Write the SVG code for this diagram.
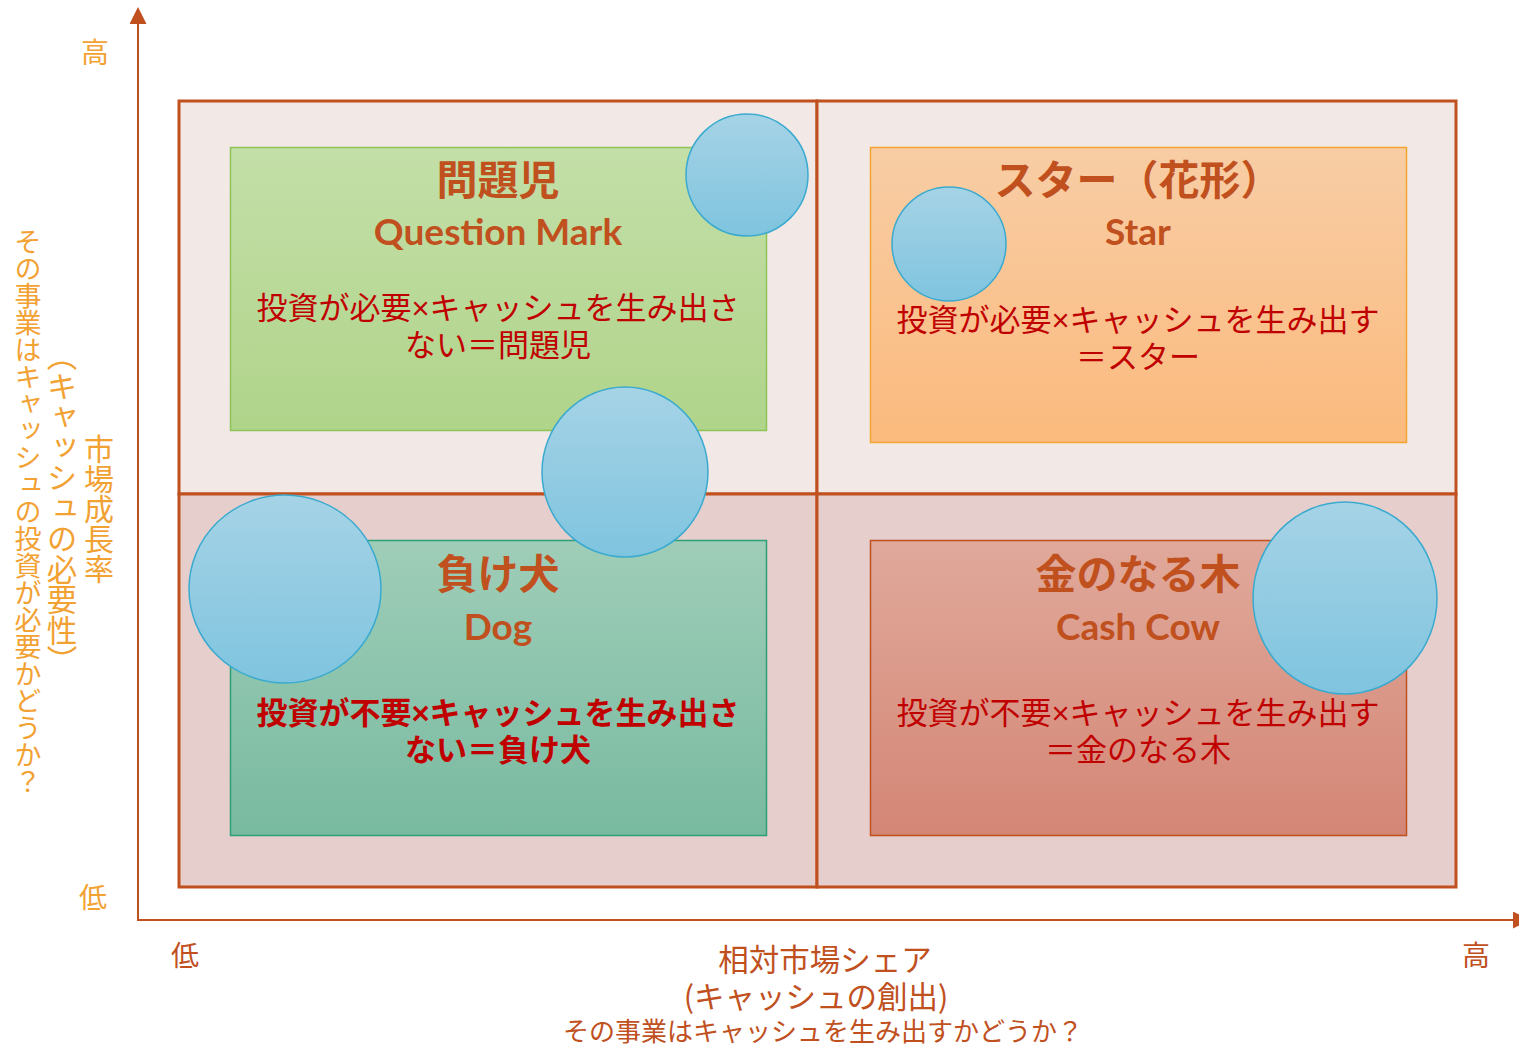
<svg xmlns="http://www.w3.org/2000/svg" width="1519" height="1048" viewBox="0 0 1519 1048">
<style>
.jp{font-family:"Noto Sans CJK JP","Noto Sans",sans-serif}
.en{font-family:Lato,"Open Sans",sans-serif;font-weight:700}
.title{font-size:41px;font-weight:700;fill:#C0501E;text-anchor:middle}
.sub{font-size:37px;fill:#C0501E;text-anchor:middle}
.body{font-family:"Liberation Sans","Noto Sans CJK JP",sans-serif;font-size:31px;fill:#C00000;text-anchor:middle}
.quad{stroke:#C0501E;stroke-width:3}
.bubble{fill:url(#gBlue);stroke:#3AAACF;stroke-width:1.5}
.vlabel{fill:#F2A133;writing-mode:vertical-rl;text-anchor:middle}
.axis{stroke:#C0501E;stroke-width:2;fill:none}
.xl{fill:#C0501E;text-anchor:middle}
</style>
<defs>
<linearGradient id="gBlue" x1="0" y1="0" x2="0" y2="1"><stop offset="0" stop-color="#A6D3E6"/><stop offset="1" stop-color="#7FC4DF"/></linearGradient>
<linearGradient id="gGreen" x1="0" y1="0" x2="0" y2="1"><stop offset="0" stop-color="#C3DFA8"/><stop offset="1" stop-color="#B0D48A"/></linearGradient>
<linearGradient id="gOrange" x1="0" y1="0" x2="0" y2="1"><stop offset="0" stop-color="#F8CDA5"/><stop offset="1" stop-color="#FBBA7D"/></linearGradient>
<linearGradient id="gTeal" x1="0" y1="0" x2="0" y2="1"><stop offset="0" stop-color="#9FCDB8"/><stop offset="1" stop-color="#78BAA0"/></linearGradient>
<linearGradient id="gRed" x1="0" y1="0" x2="0" y2="1"><stop offset="0" stop-color="#E0A99B"/><stop offset="1" stop-color="#D48675"/></linearGradient>
<marker id="arrow" markerUnits="userSpaceOnUse" markerWidth="18" markerHeight="18" refX="0" refY="8.5" orient="auto"><path d="M0,0 L17,8.5 L0,17 z" fill="#C0501E"/></marker>
</defs>
<rect width="1519" height="1048" fill="#FFFFFF"/>

<g id="connectors">
<line class="axis" x1="138" y1="920" x2="138" y2="24" marker-end="url(#arrow)"/>
<line class="axis" x1="137" y1="920" x2="1513" y2="920" marker-end="url(#arrow)"/>
</g>

<g id="quadrants">
<rect class="quad" x="179" y="101" width="638" height="393" fill="#F2E8E6"/>
<rect class="quad" x="817" y="101" width="639" height="393" fill="#F2E8E6"/>
<rect class="quad" x="179" y="494" width="638" height="393" fill="#E6CECD"/>
<rect class="quad" x="817" y="494" width="639" height="393" fill="#E6CECD"/>
</g>

<g id="question-mark">
<rect x="230.5" y="147.5" width="536" height="283" fill="url(#gGreen)" stroke="#8DC357" stroke-width="1.5"/>
<text class="jp title" x="498" y="195">問題児</text>
<text class="en sub" x="498" y="245">Question Mark</text>
<text class="body" x="498" y="319">投資が必要×キャッシュを生み出さ</text>
<text class="body" x="498" y="356">ない＝問題児</text>
</g>

<g id="star">
<rect x="870.5" y="147.5" width="536" height="295" fill="url(#gOrange)" stroke="#F3A530" stroke-width="1.5"/>
<text class="jp title" x="1138" y="195">スター（花形）</text>
<text class="en sub" x="1138" y="245">Star</text>
<text class="body" x="1138" y="331">投資が必要×キャッシュを生み出す</text>
<text class="body" x="1138" y="368">＝スター</text>
</g>

<g id="dog">
<rect x="230.5" y="540.5" width="536" height="295" fill="url(#gTeal)" stroke="#2E9E79" stroke-width="1.5"/>
<text class="jp title" x="498" y="589">負け犬</text>
<text class="en sub" x="498" y="640">Dog</text>
<text class="body" x="498" y="724" font-weight="700">投資が不要×キャッシュを生み出さ</text>
<text class="body" x="498" y="761" font-weight="700">ない＝負け犬</text>
</g>

<g id="cash-cow">
<rect x="870.5" y="540.5" width="536" height="295" fill="url(#gRed)" stroke="#C0501E" stroke-width="1.5"/>
<text class="jp title" x="1138" y="589">金のなる木</text>
<text class="en sub" x="1138" y="640">Cash Cow</text>
<text class="body" x="1138" y="724">投資が不要×キャッシュを生み出す</text>
<text class="body" x="1138" y="761">＝金のなる木</text>
</g>

<g id="bubbles">
<ellipse id="bubble-qm" class="bubble" cx="747" cy="175" rx="61" ry="61"/>
<ellipse id="bubble-star" class="bubble" cx="949" cy="244" rx="57" ry="57"/>
<ellipse id="bubble-mid" class="bubble" cx="625" cy="472" rx="83" ry="85"/>
<ellipse id="bubble-dog" class="bubble" cx="285" cy="589" rx="96" ry="94"/>
<ellipse id="bubble-cow" class="bubble" cx="1345" cy="598" rx="92" ry="96"/>
</g>

<g id="y-axis-labels">
<text class="jp" x="95" y="63" font-size="28" fill="#F2A133" text-anchor="middle">高</text>
<text class="jp" x="93" y="908" font-size="28" fill="#F2A133" text-anchor="middle">低</text>
<text class="jp vlabel" x="99" y="509" font-size="30">市場成長率</text>
<text class="jp vlabel" x="62" y="508" font-size="30.5">（キャッシュの必要性）</text>
<text class="jp vlabel" x="28" y="512" font-size="27">その事業はキャッシュの投資が必要かどうか？</text>
</g>

<g id="x-axis-labels">
<text class="jp xl" x="185" y="966" font-size="28">低</text>
<text class="jp xl" x="1476" y="966" font-size="28">高</text>
<text class="jp xl" x="825" y="971" font-size="30.5">相対市場シェア</text>
<text class="jp xl" x="816" y="1008" font-size="30.5">(キャッシュの創出)</text>
<text class="jp xl" x="823" y="1041" font-size="26">その事業はキャッシュを生み出すかどうか？</text>
</g>
</svg>
